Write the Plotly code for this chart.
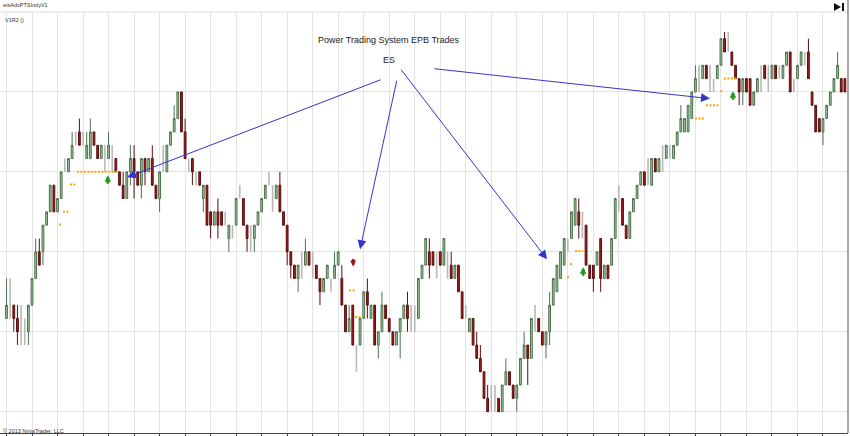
import plotly.graph_objects as go

# ---- bar data (price in brick levels), one entry per bar ----
opens = [7,7,8,7,5,5,6,8,10,12,12,14,15,17,15,16,18,18,19,20,21,20,19,19,21,20,19,18,19,18,
         19,18,17,16,18,19,18,17,19,18,19,17,16,18,18,20,21,22,24,21,18,19,17,18,16,17,15,14,15,15,
         14,13,13,14,16,16,14,12,13,14,15,16,17,15,16,17,15,14,12,11,10,10,11,12,10,11,10,9,10,9,
         10,11,10,8,6,8,3,5,7,9,7,8,5,6,8,7,6,5,6,7,8,6,6,7,10,11,12,12,10,12,
         11,10,11,10,11,9,7,6,7,5,4,3,1,0,0,1,0,2,3,2,1,2,4,5,4,6,7,6,5,6,
         8,9,10,11,12,13,14,15,13,14,11,11,11,13,10,11,11,13,15,16,14,13,15,16,17,18,17,17,19,18,
         18,19,19,19,20,21,21,21,22,24,24,25,26,24,24,25,26,28,27,27,26,25,24,25,25,23,24,24,26,24,
         25,26,25,25,26,27,24,25,26,26,27,24,23,22,21,22,23,24,25,25,25]
highs = [10,10,8,8,8,7,8,10,13,13,14,15,17,17,16,18,19,19,21,21,22,21,21,22,21,20,20,20,21,20,
         19,18,18,18,20,20,18,19,19,19,20,17,18,20,20,21,23,24,24,22,19,19,18,18,17,17,15,15,16,15,
         15,14,14,16,17,16,14,14,14,15,16,17,18,17,17,18,15,14,12,11,11,12,13,12,12,11,10,10,11,10,
         12,12,11,8,8,8,5,7,9,10,8,8,6,9,8,7,6,6,7,8,9,8,8,10,11,13,13,12,12,12,
         13,12,12,11,11,9,8,7,7,6,5,3,2,2,2,1,2,4,3,2,2,4,6,5,7,8,7,6,6,9,
         10,11,12,13,13,15,16,16,15,14,11,11,12,13,11,11,13,16,17,16,14,15,16,17,18,18,19,19,19,19,
         20,20,20,20,21,23,22,23,24,26,26,26,26,26,25,26,28,28.5,28.5,27,26,25,25,25,25,24,25,26,26,26,
         26,26,26,26,27,27,25,26,27,27,28,24,23,22,22,23,24,25,27,25,25]
lows = [7,7,6,5,5,5,5,8,10,11,11,14,15,15,15,16,18,18,19,20,20,20,19,19,20,19,19,18,19,18,
        18,17,16,16,17,16,17,16,17,18,17,16,15,18,18,20,21,22,21,19,18,17,17,17,15,14,13,14,13,14,
        14,12,13,14,16,14,12,12,12,14,15,16,17,15,16,15,14,11,10,10,9,10,11,11,10,10,8,9,10,9,
        10,11,8,6,6,5,3,5,7,7,7,5,4,6,7,6,5,5,4,7,6,6,6,7,10,11,10,11,10,11,
        11,10,10,10,9,7,7,6,5,4,3,1,0,0,0,0,0,2,2,1,0,2,4,2,4,6,6,5,4,5,
        8,9,10,11,12,13,14,13,13,11,10,9,11,9,10,10,11,13,15,14,13,13,15,16,17,17,17,17,18,18,
        18,19,19,19,20,21,21,21,22,24,24,25,25,24,24,25,26,27,27,26,25,23,23,24,23,23,24,24,25,24,
        25,25,25,25,26,24,24,25,26,26,25,23,21,21,20,22,23,24,25,24,24]
closes = [8,7,7,6,5,5,8,10,12,11,14,15,17,15,16,18,18,19,20,20,20,20,20,21,20,19,20,18,20,18,
          18,17,16,18,19,18,17,19,18,19,17,16,18,18,20,21,22,24,21,19,18,18,17,17,17,14,14,15,14,14,
          14,14,13,16,16,14,13,12,14,15,16,17,17,15,17,15,14,12,11,10,11,10,12,11,10,10,9,10,11,9,
          11,12,8,6,7,5,3,7,9,8,8,5,6,8,7,6,5,6,7,8,7,6,6,10,11,13,11,11,10,11,
          13,10,10,11,9,7,7,7,5,4,3,1,0,0,0,0,2,3,2,1,2,4,5,4,7,6,6,5,6,8,
          10,11,12,13,12,15,16,14,13,11,10,10,12,10,11,10,13,16,15,14,13,15,16,17,18,17,17,19,18,19,
          18,20,19,20,21,22,22,23,24,25,24,26,25,24,24,26,28,27,27,26,25,24,25,24,23,24,25,24,25,24,
          26,25,25,26,27,24,24,26,27,26,25,23,21,21,22,23,24,25,26,24,24]

# trailing-stop dashes: start bar, end bar, price level
stop_x0 = [19.3, 17.4, 15.5, 14.4, 94.0, 95.6, 156.0, 154.6, 153.8, 188.9, 191.9, 195.8, 196.8]
stop_x1 = [30.3, 19.2, 17.4, 15.2, 95.6, 97.5, 158.2, 155.4, 154.6, 191.6, 195.8, 196.6, 200.4]
stop_lvl = [18.0, 17.05, 15.0, 14.05, 9.1, 7.1, 12.06, 11.08, 10.1, 22.0, 23.0, 24.06, 25.0]

# entry arrows
long_x = [27.8, 158.2, 199.3]
long_tip = [17.75, 10.85, 24.05]
short_x = [95.1]
short_tip = [10.9]

# callout arrows from the "ES" label
callout_x = [33.1, 97.0, 148.3, 193.0]
callout_y = [17.6, 12.2, 11.44, 23.5]
callout_ax = [255, 37, -147, -277]
callout_ay = [-98, -170, -191, -30]

n = len(opens)
idx = list(range(n))
col = [i for i in idx if opens[i] != closes[i]]
gry = [i for i in idx if opens[i] == closes[i]]

fig = go.Figure()

gx, gy = [], []
for i in gry:
    gx += [i, i, None]
    gy += [lows[i], highs[i], None]
fig.add_trace(go.Scatter(x=gx, y=gy, mode='lines', line=dict(color='#b8b8b8', width=1.6),
                         hoverinfo='skip', showlegend=False))

fig.add_trace(go.Candlestick(
    x=col, open=[opens[i] for i in col], high=[highs[i] for i in col],
    low=[lows[i] for i in col], close=[closes[i] for i in col],
    increasing=dict(line=dict(color='#4d704d', width=1), fillcolor='#9fcb9f'),
    decreasing=dict(line=dict(color='#5a0d0d', width=1), fillcolor='#a81b1b'),
    whiskerwidth=0, showlegend=False, hoverinfo='skip'))

sx, sy = [], []
for a, b, l in zip(stop_x0, stop_x1, stop_lvl):
    sx += [a, b, None]
    sy += [l, l, None]
fig.add_trace(go.Scatter(x=sx, y=sy, mode='lines', line=dict(color='#ffa500', width=2, dash='2px,1.5px'),
                         hoverinfo='skip', showlegend=False))

ann = []
for x, y in zip(long_x, long_tip):
    ann.append(dict(x=x, y=y, xref='x', yref='y', text='', showarrow=True, ax=0, ay=10,
                    arrowhead=2, arrowsize=0.5, arrowwidth=2.6, arrowcolor='#1f9a1f', standoff=0))
for x, y in zip(short_x, short_tip):
    ann.append(dict(x=x, y=y, xref='x', yref='y', text='', showarrow=True, ax=0, ay=-9,
                    arrowhead=2, arrowsize=0.5, arrowwidth=2.4, arrowcolor='#a01515', standoff=0))
for x, y, ax, ay in zip(callout_x, callout_y, callout_ax, callout_ay):
    ann.append(dict(x=x, y=y, xref='x', yref='y', text='', showarrow=True, ax=ax, ay=ay,
                    arrowhead=2, arrowsize=1.8, arrowwidth=1, arrowcolor='#3535c8', standoff=0))

PW, PT, PB = 848.0, 12.0, 433.0
def px(xp):
    return xp / PW
def py(yp):
    return (PB - yp) / (PB - PT)

txt_font = dict(family='Liberation Sans, Arial', size=9, color='#222222')
small_font = dict(family='Liberation Sans, Arial', size=5.5, color='#333333')
ann += [
    dict(x=px(389), y=py(39.5), xref='paper', yref='paper', text='Power Trading System EPB Trades',
         xanchor='center', yanchor='middle', showarrow=False, font=txt_font),
    dict(x=px(389), y=py(59.5), xref='paper', yref='paper', text='ES',
         xanchor='center', yanchor='middle', showarrow=False, font=txt_font),
    dict(x=px(1), y=py(5), xref='paper', yref='paper', text='etsAdvPTSIndyV1',
         xanchor='left', yanchor='middle', showarrow=False, font=small_font),
    dict(x=px(3), y=py(20), xref='paper', yref='paper', text='V1R2 ()',
         xanchor='left', yanchor='middle', showarrow=False, font=small_font),
    dict(x=px(1), y=py(430.5), xref='paper', yref='paper', text='© 2013 NinjaTrader, LLC',
         xanchor='left', yanchor='middle', showarrow=False, font=small_font),
]

shapes = [
    dict(type='line', xref='paper', yref='paper', x0=0, x1=1, y0=1, y1=1,
         line=dict(color='#dcdcdc', width=1)),
    dict(type='line', xref='paper', yref='paper', x0=1, x1=1, y0=0, y1=py(0),
         line=dict(color='#505050', width=1)),
    dict(type='path', xref='paper', yref='paper',
         path=f'M {px(834)},{py(3)} L {px(834)},{py(11)} L {px(841)},{py(7)} Z',
         fillcolor='#111111', line=dict(width=0)),
    dict(type='rect', xref='paper', yref='paper', x0=px(842), x1=px(844), y0=py(11), y1=py(3),
         fillcolor='#111111', line=dict(width=0)),
]

fig.update_layout(
    width=850, height=436,
    margin=dict(l=0, r=2, t=12, b=3, pad=0),
    paper_bgcolor='white', plot_bgcolor='white',
    boxgap=0.3,
    showlegend=False,
    annotations=ann, shapes=shapes,
    xaxis=dict(range=[-1.783, 230.86], tickmode='array', tickvals=list(range(0, n, 7)),
               showticklabels=False, ticks='outside', ticklen=3, tickcolor='#444444',
               showgrid=True, gridcolor='#e3e3e3', gridwidth=1, zeroline=False,
               showline=True, linecolor='#444444', linewidth=1,
               rangeslider=dict(visible=False)),
    yaxis=dict(range=[-1.6, 30], tickmode='array', tickvals=[0, 6, 12, 18, 24],
               showticklabels=False, showgrid=True, gridcolor='#e3e3e3', gridwidth=1,
               zeroline=False, showline=False),
)

fig.write_html('out.html', config={'displayModeBar': False},
               post_script="document.body.style.margin='0';document.body.style.overflow='hidden';")
